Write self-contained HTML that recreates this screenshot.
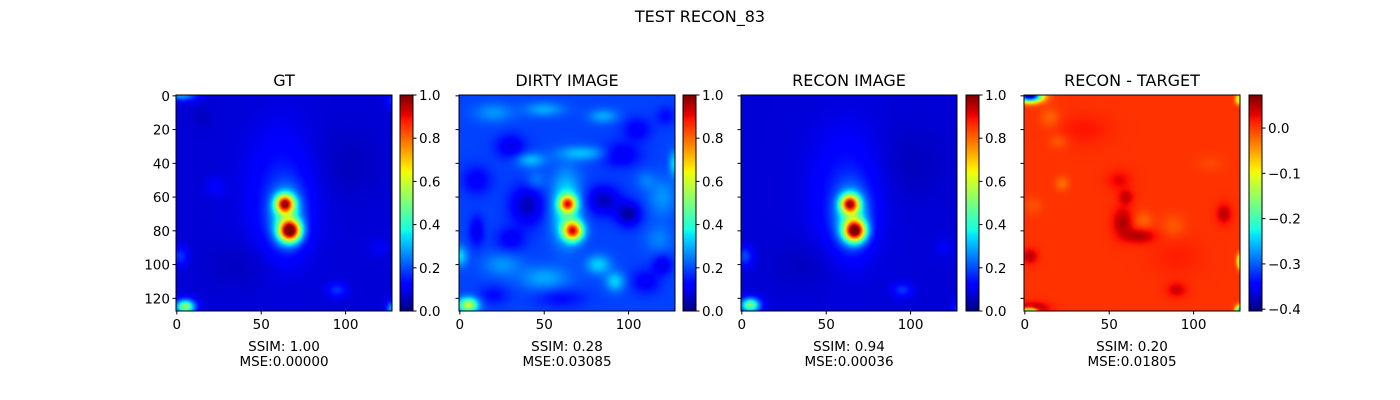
<!DOCTYPE html>
<html><head><meta charset="utf-8">
<style>
html,body{margin:0;padding:0;background:#fff;}
#fig{position:relative;width:1400px;height:400px;overflow:hidden;font-family:"Liberation Sans","DejaVu Sans",sans-serif;}
canvas{position:absolute;image-rendering:auto;}
svg{position:absolute;left:0;top:0;}
text{font-family:"DejaVu Sans","Liberation Sans",sans-serif;fill:#000;}
</style></head>
<body>
<div id="fig">
<canvas id="c0" width="128" height="128" style="left:176px;top:95px;width:216px;height:216px"></canvas>
<canvas id="c1" width="128" height="128" style="left:459px;top:95px;width:216px;height:216px"></canvas>
<canvas id="c2" width="128" height="128" style="left:741px;top:95px;width:216px;height:216px"></canvas>
<canvas id="c3" width="128" height="128" style="left:1024px;top:95px;width:216px;height:216px"></canvas>
<canvas id="b0" width="1" height="216" style="left:400px;top:95px;width:13px;height:216px"></canvas>
<canvas id="b1" width="1" height="216" style="left:683px;top:95px;width:13px;height:216px"></canvas>
<canvas id="b2" width="1" height="216" style="left:966px;top:95px;width:13px;height:216px"></canvas>
<canvas id="b3" width="1" height="216" style="left:1249px;top:95px;width:13px;height:216px"></canvas>
<svg id="ov" width="1400" height="400">
<text x="700" y="22" text-anchor="middle" font-size="16">TEST RECON_83</text>
</svg>
</div>
<script>
// Panel data: blobs [x, y, amplitude, sigmaX, sigmaY]
const gtBase = 0.075;
const gtBlobs = [[64,64,0.68,3.8,3.8],[67,80,0.83,4.4,4.4],[65,72,0.25,7,12],[62,58,0.08,14,26],[5,125,0.45,4,3],[3,0,0.2,6,2],[95,115,0.1,4,3],[2,95,0.1,3,4],[127,126,0.2,2,3],[127,3,0.08,2,3],[15,13,-0.02,4,4],[23,54,0.04,4,4],[120,90,0.03,4,4],[40,100,-0.02,15,10],[100,40,-0.02,15,15]];
const reconBase = 0.075;
const reconBlobs = [[64,64,0.66,3.8,3.8],[67,80,0.8,4.4,4.4],[65,72,0.25,7,12],[62,58,0.08,14,26],[5,124,0.42,4,3],[2,95,0.12,3,4],[95,115,0.1,4,3],[120,90,0.03,4,4],[127,126,0.08,2,3],[40,100,-0.02,15,10],[100,40,-0.02,15,15]];
const dirtyBase = 0.19;
const dirtyBlobs = [[64,64,0.55,3.4,3.4],[67,80,0.65,4,4],[63,66,0.2,6,14],[5,124,0.4,4,3],[0,95,0.15,3,4],[127,40,0.15,2,5],
 [20,10,0.08,8,4],[50,8,0.1,8,3],[85,12,0.1,6,3],[105,20,-0.08,6,5],[122,12,-0.06,4,4],[30,30,-0.1,6,5],[42,38,0.12,6,3],[73,34,0.12,10,3],[95,35,-0.1,8,5],
 [10,50,-0.08,6,6],[40,65,-0.14,7,8],[30,85,-0.08,6,5],[85,62,-0.14,7,6],[100,70,-0.16,5,5],[120,60,0.08,6,8],[118,85,0.06,6,6],
 [10,80,-0.1,3,6],[25,100,0.08,8,5],[50,108,0.1,10,5],[82,100,0.14,5,4],[92,110,0.14,4,4],[110,110,-0.08,6,5],[120,100,-0.1,4,4],[60,120,-0.06,10,4],[20,118,-0.06,6,4],[45,50,0.06,4,4],[110,50,0.05,4,4]];
const diffBase = 0.005;
const diffBlobs = [[3,0,-0.4,5,2.5],[5,126,0.06,6,2.5],[3,128,-0.3,3,1.5],[127,127,-0.25,1.5,2],[128,98,-0.2,1.5,3],[127,2,-0.15,1.5,2],
 [58,75,0.05,4,6],[68,83,0.05,6,3],[60,60,0.04,3,3],[56,50,0.025,5,4],[70,74,-0.025,4,4],[88,77,-0.02,5,5],[15,13,-0.025,4,4],[22,52,-0.03,3,3],
 [20,27,-0.02,4,3],[118,70,0.045,3,4],[3,95,0.045,3,3],[90,115,0.035,4,3],[5,65,-0.015,4,4],[110,40,-0.01,6,4],[35,20,0.015,10,6],[90,95,0.01,10,8]];
const titles = ["GT","DIRTY IMAGE","RECON IMAGE","RECON - TARGET"];
const ssims = ["1.00","0.28","0.94","0.20"];
const mses = ["0.00000","0.03085","0.00036","0.01805"];
const xTicks = [0,50,100];
const yTicks = [0,20,40,60,80,100,120];
const cbTicks01 = [0.0,0.2,0.4,0.6,0.8,1.0];
const cbTicksDiff = [0.0,-0.1,-0.2,-0.3,-0.4];
const ranges = [[0,1],[0,1],[0,1],[-0.404,0.073]];

const JR=[[0,0],[0.35,0],[0.66,1],[0.89,1],[1,0.5]],JG=[[0,0],[0.125,0],[0.375,1],[0.64,1],[0.91,0],[1,0]],JB=[[0,0.5],[0.11,1],[0.34,1],[0.65,0],[1,0]];
function seg(s,t){for(let i=1;i<s.length;i++){if(t<=s[i][0]){const a=s[i-1],b=s[i];return a[1]+(b[1]-a[1])*(t-a[0])/(b[0]-a[0]);}}return s[s.length-1][1];}
function jet(t){t=Math.max(0,Math.min(1,t));return [Math.round(255*seg(JR,t)),Math.round(255*seg(JG,t)),Math.round(255*seg(JB,t))];}
function field(base,blobs,x,y){let v=base;for(const b of blobs){const dx=(x-b[0])/b[3],dy=(y-b[1])/b[4];v+=b[2]*Math.exp(-0.5*(dx*dx+dy*dy));}return v;}
function drawImg(id,base,blobs,r){const cv=document.getElementById(id),ctx=cv.getContext('2d'),im=ctx.createImageData(128,128);
 for(let y=0;y<128;y++)for(let x=0;x<128;x++){const v=field(base,blobs,x,y);const col=jet((v-r[0])/(r[1]-r[0]));const i=(y*128+x)*4;im.data[i]=col[0];im.data[i+1]=col[1];im.data[i+2]=col[2];im.data[i+3]=255;}
 ctx.putImageData(im,0,0);}
function drawBar(id){const cv=document.getElementById(id),ctx=cv.getContext('2d');for(let y=0;y<216;y++){const c=jet(1-y/215);ctx.fillStyle=`rgb(${c})`;ctx.fillRect(0,y,1,1);}}
drawImg('c0',gtBase,gtBlobs,ranges[0]);drawImg('c1',dirtyBase,dirtyBlobs,ranges[1]);
drawImg('c2',reconBase,reconBlobs,ranges[2]);drawImg('c3',diffBase,diffBlobs,ranges[3]);
['b0','b1','b2','b3'].forEach(drawBar);

const NS='http://www.w3.org/2000/svg',ov=document.getElementById('ov');
function mk(tag,attrs,txt){const e=document.createElementNS(NS,tag);for(const k in attrs)e.setAttribute(k,attrs[k]);if(txt!==undefined)e.textContent=txt;ov.appendChild(e);return e;}
const panelX=[176,459,741,1024],barX=[400,683,966,1249],top0=95,S=216;
const px=(x0,v)=>x0+(v+0.5)*S/128, py=v=>top0+(v+0.5)*S/128;
panelX.forEach((x0,p)=>{
 let e=mk('rect',{x:x0,y:top0,width:S,height:S,fill:'none',stroke:'#000','stroke-width':1});
 
 e=mk('text',{x:x0+S/2,y:86,'text-anchor':'middle','font-size':16},titles[p]);
 
 xTicks.forEach(t=>{const X=px(x0,t);mk('line',{x1:X,x2:X,y1:311,y2:314.5,stroke:'#000'});
  e=mk('text',{x:X,y:329,'text-anchor':'middle','font-size':13.5},t);
  });
 yTicks.forEach(t=>{const Y=py(t);mk('line',{x1:x0-3.5,x2:x0,y1:Y,y2:Y,stroke:'#000'});
  if(p===0){e=mk('text',{x:x0-6,y:Y+5,'text-anchor':'end','font-size':13.5},t);
  }});
 e=mk('text',{x:x0+S/2,y:351,'text-anchor':'middle','font-size':13.5},'SSIM: '+ssims[p]);
 
 e=mk('text',{x:x0+S/2,y:366,'text-anchor':'middle','font-size':13.5},'MSE:'+mses[p]);
 
 const bx=barX[p],r=ranges[p],ticks=p===3?cbTicksDiff:cbTicks01;
 mk('rect',{x:bx,y:top0,width:13,height:S,fill:'none',stroke:'#000','stroke-width':1});
 ticks.forEach(t=>{const Y=top0+S*(r[1]-t)/(r[1]-r[0]);mk('line',{x1:bx+13,x2:bx+16.5,y1:Y,y2:Y,stroke:'#000'});
  const lab=(t<0?'\u2212'+Math.abs(t).toFixed(1):t.toFixed(1));
  e=mk('text',{x:bx+19,y:Y+5,'font-size':13.5},lab);
  });
});
</script>
</body></html>
